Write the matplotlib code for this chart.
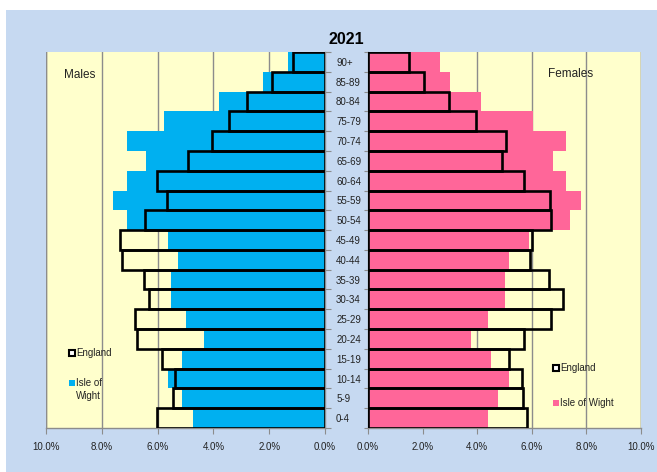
import matplotlib
matplotlib.use("Agg")
import matplotlib.pyplot as plt
from matplotlib.patches import Rectangle
from matplotlib.ticker import FuncFormatter, FixedLocator
import numpy as np

plt.rcParams['font.family'] = ['Liberation Sans', 'DejaVu Sans']

age_groups = ["0-4", "5-9", "10-14", "15-19", "20-24", "25-29", "30-34", "35-39",
              "40-44", "45-49", "50-54", "55-59", "60-64", "65-69", "70-74",
              "75-79", "80-84", "85-89", "90+"]

# percentages, listed from 0-4 up to 90+
male_iow = [4.73, 5.13, 5.63, 5.13, 4.34, 4.98, 5.52, 5.52, 5.27, 5.63,
            7.08, 7.59, 7.08, 6.42, 7.08, 5.77, 3.79, 2.23, 1.31]
male_eng = [6.03, 5.44, 5.38, 5.84, 6.73, 6.81, 6.30, 6.49, 7.29, 7.35,
            6.45, 5.67, 6.01, 4.92, 4.06, 3.45, 2.81, 1.91, 1.16]
female_iow = [4.39, 4.76, 5.16, 4.50, 3.77, 4.39, 5.01, 5.01, 5.16, 5.90,
              7.40, 7.79, 7.27, 6.76, 7.27, 6.03, 4.13, 3.00, 2.63]
female_eng = [5.83, 5.68, 5.64, 5.16, 5.71, 6.69, 7.13, 6.63, 5.93, 5.99,
              6.69, 6.66, 5.72, 4.90, 5.05, 3.95, 2.97, 2.04, 1.50]

x_ticks = [0, 2, 4, 6, 8, 10]

W, H = 657, 472
fig = plt.figure(figsize=(W / 100, H / 100), dpi=100)
fig.patch.set_facecolor("white")
fig.add_artist(Rectangle((6 / W, 0), 1 - 6 / W, 1 - 10 / H, transform=fig.transFigure,
                         facecolor="#C6D9F1", edgecolor="none", zorder=-10))

BLUE = "#00B0F0"
PINK = "#FF6699"
YELLOW = "#FFFFCC"
GRID = "#8C8C8C"

bottom = (H - 428) / H
height = 376 / H
axL = fig.add_axes([46 / W, bottom, (325 - 46) / W, height])
axR = fig.add_axes([368 / W, bottom, (641 - 368) / W, height])

y = np.arange(len(age_groups))
fmt = FuncFormatter(lambda v, p: f"{v:.1f}%")

for ax, iow, eng, col in [(axL, male_iow, male_eng, BLUE), (axR, female_iow, female_eng, PINK)]:
    ax.set_facecolor(YELLOW)
    ax.barh(y, iow, height=1.0, color=col, edgecolor="none", zorder=2)
    ax.barh(y, eng, height=1.0, facecolor="none", edgecolor="black", linewidth=1.9, zorder=3)
    ax.set_xlim(0, 10)
    ax.set_ylim(-0.5, len(age_groups) - 0.5)
    ax.xaxis.set_major_locator(FixedLocator(x_ticks))
    ax.xaxis.set_major_formatter(fmt)
    ax.grid(axis="x", color=GRID, linewidth=1.0, zorder=1)
    ax.set_axisbelow(True)
    for s in ax.spines.values():
        s.set_color(GRID)
        s.set_linewidth(1.0)
    ax.spines["top"].set_visible(False)
    ax.tick_params(axis="x", direction="out", length=4, color=GRID, labelsize=7, pad=6,
                   labelcolor="#222222")

axL.invert_xaxis()
axR.spines["right"].set_visible(False)

# category ticks: boundaries as major ticks, labels on minor ticks at centres
axL.yaxis.tick_right()
axL.yaxis.set_major_locator(FixedLocator(np.arange(-0.5, len(age_groups), 1.0)))
axL.yaxis.set_major_formatter(FuncFormatter(lambda v, p: ""))
axL.yaxis.set_minor_locator(FixedLocator(y))
axL.yaxis.set_minor_formatter(FuncFormatter(lambda v, p: age_groups[int(round(v))]))
axL.tick_params(axis="y", which="major", direction="out", length=4, color=GRID)
axL.tick_params(axis="y", which="minor", length=0, pad=8, labelsize=7, labelcolor="#222222")
axL.spines["left"].set_visible(False)

axR.yaxis.set_major_locator(FixedLocator(np.arange(-0.5, len(age_groups), 1.0)))
axR.yaxis.set_major_formatter(FuncFormatter(lambda v, p: ""))
axR.tick_params(axis="y", which="major", direction="out", length=3, color=GRID)

axL.axvline(10, color=GRID, linewidth=1.0, zorder=1)
axR.axvline(10, color=GRID, linewidth=1.0, zorder=1)

fig.text(346 / W, 1 - 40 / H, "2021", ha="center", va="center", fontsize=11.5, fontweight="bold")
fig.text(64 / W, 1 - 75 / H, "Males", ha="left", va="center", fontsize=8.5, color="#222222")
fig.text(548 / W, 1 - 74 / H, "Females", ha="left", va="center", fontsize=8.5, color="#222222")

# legends drawn as text with small squares
def legend_item(x, yy, fc, ec, lw, label):
    fig.add_artist(Rectangle(((x) / W, 1 - (yy + 3) / H), 6 / W, 6 / H, transform=fig.transFigure,
                             facecolor=fc, edgecolor=ec, linewidth=lw, zorder=5))
    fig.text((x + 7) / W, 1 - yy / H, label, ha="left", va="center", fontsize=7,
             color="#222222", linespacing=1.1)

legend_item(69, 353, "white", "black", 1.5, "England")
legend_item(69, 383, BLUE, "none", 0, "Isle of")
fig.text(76 / W, 1 - 396 / H, "Wight", ha="left", va="center", fontsize=7, color="#222222")
legend_item(553, 368, "white", "black", 1.5, "England")
legend_item(553, 403, PINK, "none", 0, "Isle of Wight")

fig.savefig("out.png", dpi=100, facecolor=fig.get_facecolor())
